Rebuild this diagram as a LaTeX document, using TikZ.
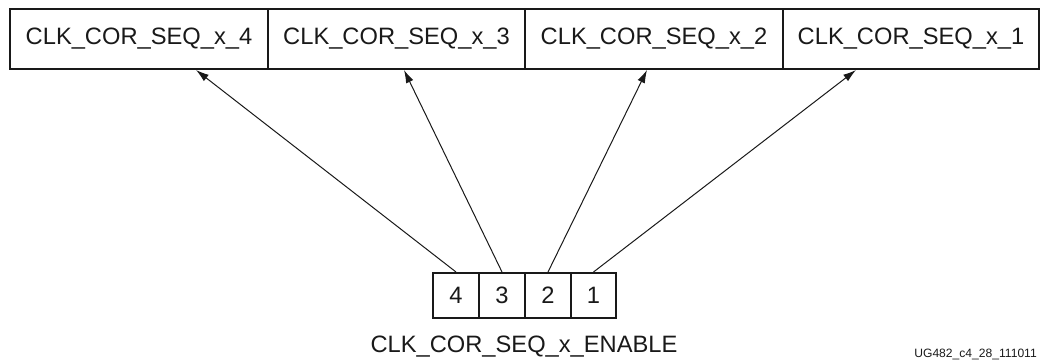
\documentclass[tikz,border=0pt]{standalone}
\usepackage{fontspec}
\setmainfont{Liberation Sans}
\usetikzlibrary{arrows.meta,calc}
\tikzset{
  regbox/.style={draw, line width=2pt, inner sep=0pt, minimum height=60pt, font=\fontsize{23.7}{28}\selectfont},
  bitbox/.style={draw, line width=2pt, inner sep=0pt, minimum height=45pt, minimum width=46pt, font=\fontsize{23.7}{28}\selectfont},
  arr/.style={-{Latex[length=13pt,width=8pt]}, line width=1pt},
  lbl/.style={font=\fontsize{23.7}{28}\selectfont, inner sep=0pt},
  tag/.style={font=\fontsize{12.1}{14}\selectfont, inner sep=0pt}
}
\begin{document}
\begin{tikzpicture}[x=1pt,y=-1pt, color=black!90]
\useasboundingbox (0,0) rectangle (1044,363);
\node[regbox, minimum width=258pt] (t4) at (139,39) {CLK\_COR\_SEQ\_x\_4};
\node[regbox, minimum width=257pt] (t3) at (396.5,39) {CLK\_COR\_SEQ\_x\_3};
\node[regbox, minimum width=258pt] (t2) at (654,39) {CLK\_COR\_SEQ\_x\_2};
\node[regbox, minimum width=256pt] (t1) at (911,39) {CLK\_COR\_SEQ\_x\_1};
\node[bitbox] (b4) at (456,295.5) {4};
\node[bitbox] (b3) at (502,295.5) {3};
\node[bitbox] (b2) at (548,295.5) {2};
\node[bitbox, minimum width=45pt] (b1) at (593.5,295.5) {1};
\node[lbl] (en) at (524,347) {CLK\_COR\_SEQ\_x\_ENABLE};
\node[tag, anchor=east] (ug) at (1037,354) {UG482\_c4\_28\_111011};
\coordinate (h4) at ($(t4.south west)+(187,0)$);
\coordinate (h3) at ($(t3.south west)+(137,0)$);
\coordinate (h2) at ($(t2.south west)+(123,0)$);
\coordinate (h1) at ($(t1.south west)+(74,0)$);
\draw[arr] (b4.north) -- (h4);
\draw[arr] (b3.north) -- (h3);
\draw[arr] (b2.north) -- (h2);
\draw[arr] (b1.north) -- (h1);
\end{tikzpicture}
\end{document}
